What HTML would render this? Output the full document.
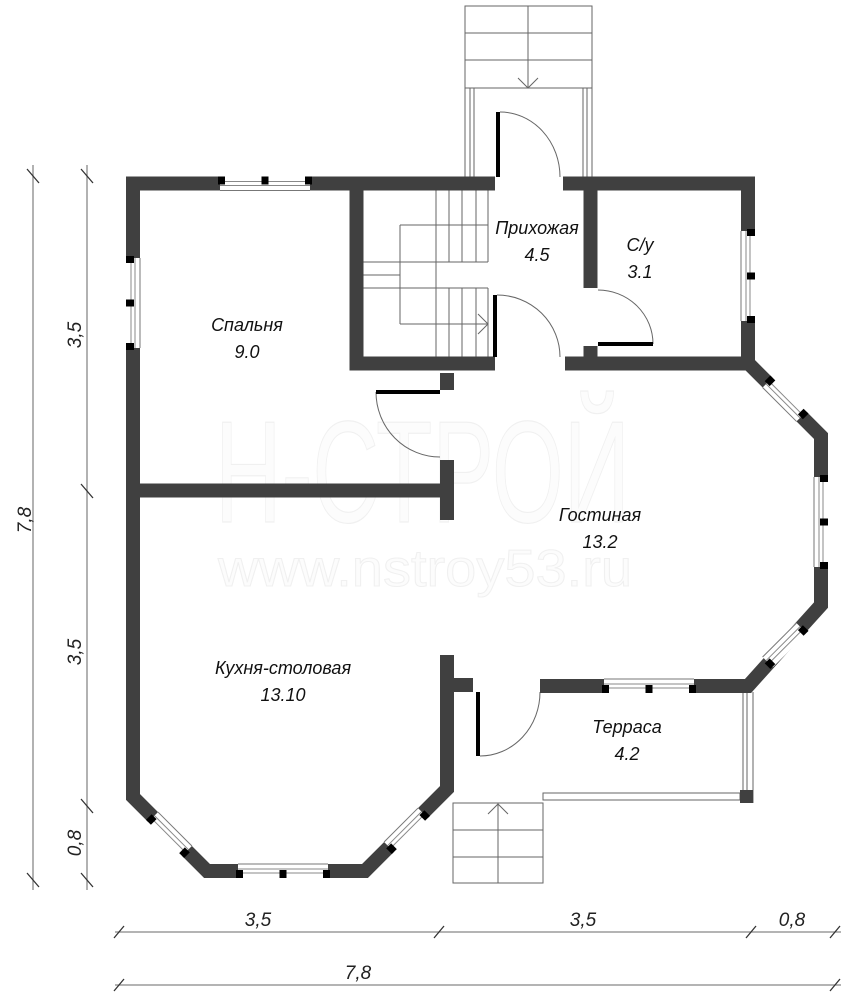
<!DOCTYPE html>
<html><head><meta charset="utf-8"><style>
html,body{margin:0;padding:0;background:#fff}
svg{display:block}
text{font-family:"Liberation Sans Narrow","Liberation Sans",sans-serif}
.lbl{font-style:italic;font-size:18px;fill:#111;text-anchor:middle}
.dim{font-style:italic;font-size:19px;fill:#222;text-anchor:middle}
</style></head><body>
<svg width="846" height="1000" viewBox="0 0 846 1000" xmlns="http://www.w3.org/2000/svg">
<!-- watermark -->
<text x="215" y="522" font-size="145" textLength="415" lengthAdjust="spacingAndGlyphs" fill="#fcfcfc" stroke="#f0f0f0" stroke-width="1.2" font-family="Liberation Sans Narrow, Liberation Sans, sans-serif">Н-СТРОЙ</text>
<text x="218" y="586" font-size="52" textLength="414" lengthAdjust="spacingAndGlyphs" fill="#fcfcfc" stroke="#f0f0f0" stroke-width="1" font-family="Liberation Sans Narrow, Liberation Sans, sans-serif">www.nstroy53.ru</text>

<!-- dimension lines -->
<g stroke="#888" stroke-width="1.3" fill="none">
<line x1="33" y1="165" x2="33" y2="890"/>
<line x1="87" y1="165" x2="87" y2="890"/>
<line x1="115" y1="932" x2="841" y2="932"/>
<line x1="115" y1="985" x2="841" y2="985"/>
</g>
<g stroke="#333" stroke-width="1.3">
<line x1="27" y1="169" x2="39" y2="183"/>
<line x1="27" y1="873" x2="39" y2="887"/>
<line x1="81" y1="169" x2="93" y2="183"/>
<line x1="81" y1="484" x2="93" y2="498"/>
<line x1="81" y1="799" x2="93" y2="813"/>
<line x1="81" y1="873" x2="93" y2="887"/>
<line x1="114" y1="938" x2="124" y2="926"/>
<line x1="434" y1="938" x2="444" y2="926"/>
<line x1="746" y1="938" x2="756" y2="926"/>
<line x1="830" y1="938" x2="840" y2="926"/>
<line x1="114" y1="991" x2="124" y2="979"/>
<line x1="830" y1="991" x2="840" y2="979"/>
</g>
<text class="dim" transform="translate(31,520) rotate(-90)">7,8</text>
<text class="dim" transform="translate(81,335) rotate(-90)">3,5</text>
<text class="dim" transform="translate(81,652) rotate(-90)">3,5</text>
<text class="dim" transform="translate(81,843) rotate(-90)">0,8</text>
<text class="dim" x="258" y="926">3,5</text>
<text class="dim" x="583" y="926">3,5</text>
<text class="dim" x="792" y="926">0,8</text>
<text class="dim" x="358" y="979">7,8</text>

<!-- entrance steps & rails -->
<g stroke="#666" stroke-width="1" fill="none">
<rect x="465" y="6" width="127" height="82"/>
<line x1="465" y1="33" x2="592" y2="33"/>
<line x1="465" y1="60" x2="592" y2="60"/>
<line x1="528" y1="6" x2="528" y2="88"/>
<polyline points="518,78 528,88 538,78"/>
<line x1="465" y1="88" x2="465" y2="177"/><line x1="470" y1="88" x2="470" y2="177"/><line x1="474" y1="88" x2="474" y2="177"/>
<line x1="583" y1="88" x2="583" y2="177"/><line x1="587" y1="88" x2="587" y2="177"/><line x1="592" y1="88" x2="592" y2="177"/>
<!-- interior stair -->
<line x1="436" y1="190" x2="436" y2="357"/>
<line x1="449" y1="190" x2="449" y2="262"/><line x1="462" y1="190" x2="462" y2="262"/><line x1="476" y1="190" x2="476" y2="262"/><line x1="488" y1="190" x2="488" y2="262"/>
<line x1="449" y1="288" x2="449" y2="357"/><line x1="462" y1="288" x2="462" y2="357"/><line x1="476" y1="288" x2="476" y2="357"/><line x1="488" y1="288" x2="488" y2="357"/>
<line x1="400" y1="225" x2="488" y2="225"/>
<line x1="436" y1="262" x2="488" y2="262"/>
<line x1="436" y1="288" x2="488" y2="288"/>
<line x1="363" y1="262" x2="436" y2="262"/>
<line x1="363" y1="275" x2="400" y2="275"/>
<line x1="363" y1="288" x2="436" y2="288"/>
<line x1="400" y1="225" x2="400" y2="324"/>
<line x1="400" y1="324" x2="488" y2="324"/>
<polyline points="478,314 488,324 478,334"/>
<!-- terrace steps -->
<rect x="453" y="803" width="90" height="80"/>
<line x1="453" y1="830" x2="543" y2="830"/>
<line x1="453" y1="857" x2="543" y2="857"/>
<line x1="498" y1="803" x2="498" y2="883"/>
<polyline points="488,814 498,804 508,814"/>
<!-- terrace rail -->
<rect x="543" y="793" width="197" height="7"/>
<line x1="743" y1="692" x2="743" y2="790"/><line x1="747" y1="692" x2="747" y2="790"/><line x1="753" y1="692" x2="753" y2="803"/>
<!-- door arcs -->
<path d="M500,112 A60,65 0 0 1 560,177"/>
<path d="M497,295 A63,62 0 0 1 560,357"/>
<path d="M598,290 A55,54 0 0 1 653,344"/>
<path d="M376,392 A64,65 0 0 0 440,457"/>
<path d="M480,756 A60,64 0 0 0 540,692"/>
</g>
<rect x="740" y="790" width="13" height="13" fill="#404040"/>

<!-- walls -->
<g stroke="#404040" stroke-width="14" fill="none" stroke-linejoin="miter" stroke-linecap="butt">
<polyline points="133,797 133,183.5 495,183.5"/>
<polyline points="563,183.5 748,183.5 748,363 821,436 821,605 748,686 540,686"/>
<line x1="565" y1="363.5" x2="748" y2="363.5"/>
<polyline points="356.5,183 356.5,363.5 495,363.5"/>
<line x1="590.5" y1="183" x2="590.5" y2="288"/>
<line x1="590.5" y1="346" x2="590.5" y2="364"/>
<polyline points="133,790 133,797 207,871 365,871 447,789 447,655"/>
<line x1="140" y1="490.5" x2="447" y2="490.5"/>
<line x1="447" y1="460" x2="447" y2="520"/>
<line x1="447" y1="373" x2="447" y2="390"/>
<line x1="447" y1="685" x2="473" y2="685"/>
</g>
<!-- door leaves -->
<g fill="#000">
<rect x="496" y="112" width="4" height="65"/>
<rect x="493" y="295" width="4" height="62"/>
<rect x="598" y="342" width="55" height="4"/>
<rect x="376" y="390" width="64" height="4"/>
<rect x="476" y="692" width="4" height="64"/>
</g>

<!-- windows -->
<defs>
<g id="w">
<rect x="-45" y="-7.5" width="90" height="15" fill="#fff"/>
<line x1="-45" y1="-2" x2="45" y2="-2" stroke="#888" stroke-width="1"/>
<line x1="-45" y1="2" x2="45" y2="2" stroke="#888" stroke-width="1"/>
<line x1="-45" y1="7" x2="45" y2="7" stroke="#777" stroke-width="1"/>
<rect x="-47" y="-7" width="7" height="8" fill="#000"/>
<rect x="-3.5" y="-7" width="7" height="8" fill="#000"/>
<rect x="40" y="-7" width="7" height="8" fill="#000"/>
</g>
<g id="ws">
<rect x="-24" y="-7.5" width="48" height="15" fill="#fff"/>
<line x1="-24" y1="-2" x2="24" y2="-2" stroke="#888" stroke-width="1"/>
<line x1="-24" y1="2" x2="24" y2="2" stroke="#888" stroke-width="1"/>
<line x1="-24" y1="7" x2="24" y2="7" stroke="#777" stroke-width="1"/>
<rect x="-27" y="-7" width="7" height="8" fill="#000"/>
<rect x="20" y="-7" width="7" height="8" fill="#000"/>
</g>
</defs>
<use href="#w" transform="translate(265,183.5)"/>
<use href="#w" transform="translate(133,303) rotate(-90)"/>
<use href="#w" transform="translate(748,276) rotate(90)"/>
<use href="#ws" transform="translate(784.5,399.5) rotate(45)"/>
<use href="#w" transform="translate(821,522) rotate(90)"/>
<use href="#ws" transform="translate(784.5,645) rotate(135)"/>
<use href="#w" transform="translate(649,686) rotate(180)"/>
<use href="#ws" transform="translate(170,834) rotate(225)"/>
<use href="#w" transform="translate(283,871) rotate(180)"/>
<use href="#ws" transform="translate(406,830) rotate(135)"/>

<!-- labels -->
<text class="lbl" x="247" y="331">Спальня</text>
<text class="lbl" x="247" y="358">9.0</text>
<text class="lbl" x="537" y="234">Прихожая</text>
<text class="lbl" x="537" y="261">4.5</text>
<text class="lbl" x="640" y="251">С/у</text>
<text class="lbl" x="640" y="278">3.1</text>
<text class="lbl" x="600" y="521">Гостиная</text>
<text class="lbl" x="600" y="548">13.2</text>
<text class="lbl" x="283" y="674">Кухня-столовая</text>
<text class="lbl" x="283" y="701">13.10</text>
<text class="lbl" x="627" y="733">Терраса</text>
<text class="lbl" x="627" y="760">4.2</text>
</svg>
</body></html>
